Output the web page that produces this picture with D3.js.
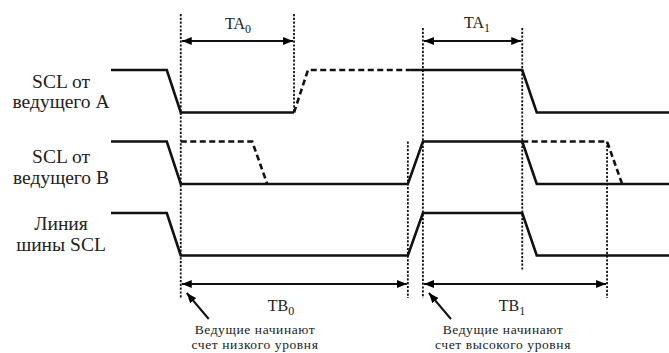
<!DOCTYPE html>
<html><head><meta charset="utf-8">
<script src="https://cdn.jsdelivr.net/npm/d3@7"></script>
<style>
html,body{margin:0;padding:0;background:#fff;}
svg{display:block;}
</style></head>
<body>
<script>
// ---- data (time in arbitrary units 0..100, level 1=high 0=low) ----
const rowLabels = [["SCL от","ведущего А"],["SCL от","ведущего В"],["Линия","шины SCL"]];
const signalASolid1 = [[0,1],[10,1],[12.5,0],[32.8,0]];
const signalADashed = [[32.8,0],[35.3,1],[53.6,1]];
const signalASolid2 = [[53.6,1],[73.7,1],[76.3,0],[100,0]];
const signalBSolid  = [[0,1],[10,1],[12.5,0],[53.2,0],[55.9,1],[73.7,1],[76.3,0],[100,0]];
const signalBDashed1 = [[12.5,1],[25.3,1],[28,0]];
const signalBDashed2 = [[73.7,1],[88.9,1],[91.6,0]];
const busSolid      = [[0,1],[10,1],[12.5,0],[53.2,0],[55.9,1],[73.7,1],[76.3,0],[100,0]];
// guide lines: time, from-anchor, to-anchor
const guides = [[12.5,"top","bottom"],[32.8,"top","aLow"],[55.9,"top2","bottom"],[73.7,"top2","busMid"],[53.2,"bHigh","bottom"],[88.9,"bHigh","bottom"]];
// dimension arrows: name, subscript, t1, t2
const dimsTop = [["TA","0",12.5,32.8],["TA","1",55.9,73.7]];
const dimsBottom = [["TB","0",12.5,53.2],["TB","1",55.9,88.9]];
const notes = [["Ведущие начинают","счет низкого уровня",12.5],["Ведущие начинают","счет высокого уровня",55.9]];

const FONT='"Liberation Serif","DejaVu Serif","Times New Roman",serif';
const W=669,H=353;
const svg=d3.select("body").append("svg").attr("width",W).attr("height",H).attr("font-family",FONT);
const x=d3.scaleLinear().domain([0,100]).range([111,669]);
const rowTop=d3.scaleLinear().domain([0,1]).range([70,141.5]); // row index -> high level y
const lvl=d3.scaleLinear().domain([0,1]).range([42.5,0]);

const defs=svg.append("defs");
defs.append("marker").attr("id","ah").attr("viewBox","0 0 10 8").attr("refX",10).attr("refY",4)
 .attr("markerWidth",10).attr("markerHeight",8).attr("markerUnits","userSpaceOnUse").attr("orient","auto-start-reverse")
 .append("path").attr("d","M0,0L10,4L0,8Z").attr("fill","#000");

function drawSig(pts,row,dashed){
  const line=d3.line().x(d=>x(d[0])).y(d=>rowTop(row)+lvl(d[1]));
  svg.append("path").attr("d",line(pts)).attr("fill","none").attr("stroke","#111")
    .attr("stroke-width",2.6).attr("stroke-linejoin","miter")
    .attr("stroke-dasharray",dashed?"6,3.5":null);
}
drawSig(signalASolid1,0,false);drawSig(signalADashed,0,true);drawSig(signalASolid2,0,false);
drawSig(signalBSolid,1,false);drawSig(signalBDashed1,1,true);drawSig(signalBDashed2,1,true);
drawSig(busSolid,2,false);

const anchors={top:14,top2:28,aLow:rowTop(0)+lvl(0),bHigh:rowTop(1)+lvl(1),busMid:270,bottom:298};
guides.forEach(g=>{
  svg.append("line").attr("x1",x(g[0])).attr("x2",x(g[0])).attr("y1",anchors[g[1]]).attr("y2",anchors[g[2]])
   .attr("stroke","#111").attr("stroke-width",1.8).attr("stroke-dasharray","2.2,1.6");
});

function dim(d,y,ty,tx){
  svg.append("line").attr("x1",x(d[2])+1).attr("x2",x(d[3])-1).attr("y1",y).attr("y2",y)
    .attr("stroke","#111").attr("stroke-width",2).attr("marker-start","url(#ah)").attr("marker-end","url(#ah)");
  const t=svg.append("text").attr("x",tx).attr("y",ty).attr("text-anchor","middle")
    .attr("font-size",16).attr("fill","#222");
  t.append("tspan").text(d[0]);
  t.append("tspan").attr("font-size",12).attr("dy",4).text(d[1]);
}
dim(dimsTop[0],41,29,238);
dim(dimsTop[1],41,28,477);
dim(dimsBottom[0],284,311,281);
dim(dimsBottom[1],284,311,512);

rowLabels.forEach((l,i)=>{
  const ys=[[88,108],[163,184],[230,251]][i];
  l.forEach((s,j)=>svg.append("text").attr("x",61).attr("y",ys[j]).attr("text-anchor","middle")
    .attr("font-size",19.5).attr("fill","#222").text(s));
});

notes.forEach((n,i)=>{
  const tx=x(n[2]);
  svg.append("line").attr("x1",tx+28).attr("y1",319).attr("x2",tx+6).attr("y2",293)
    .attr("stroke","#111").attr("stroke-width",2).attr("marker-end","url(#ah)");
  const cx=[255,503][i];
  svg.append("text").attr("x",cx).attr("y",333.5).attr("text-anchor","middle").attr("font-size",13.5)
    .attr("letter-spacing",0.6).attr("fill","#222").text(n[0]);
  svg.append("text").attr("x",cx).attr("y",349).attr("text-anchor","middle").attr("font-size",13.5)
    .attr("letter-spacing",0.6).attr("fill","#222").text(n[1]);
});
</script>
</body></html>
